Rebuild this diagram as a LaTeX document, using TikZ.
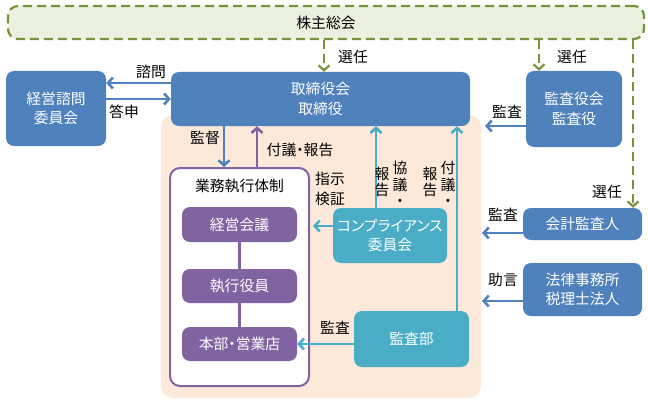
\documentclass[tikz,border=0pt]{standalone}
\usepackage{fontspec}
\setmainfont{Noto Sans CJK JP}
\newfontfamily\paltfont[RawFeature=+palt]{Noto Sans CJK JP}
\usetikzlibrary{arrows.meta}
\definecolor{boxblue}{HTML}{4F81BD}
\definecolor{boxpurple}{HTML}{8064A2}
\definecolor{boxteal}{HTML}{4BACC6}
\definecolor{dashgreen}{HTML}{77933C}
\definecolor{lightgreen}{HTML}{EBF1DE}
\definecolor{peach}{HTML}{FDE9D9}

\begin{document}
\begin{tikzpicture}[x=1pt,y=-1pt,
  every node/.style={font=\fontsize{14.8}{19.5}\selectfont, inner sep=0pt},
  box/.style={rounded corners=8pt, text=white, align=center},
  bluebox/.style={box, fill=boxblue},
  purplebox/.style={box, fill=boxpurple},
  tealbox/.style={box, fill=boxteal},
  lbl/.style={text=black, align=center},
  vlbl/.style={text=black, align=center, font=\fontsize{14.8}{16.5}\selectfont},
  arr/.style={line width=2.6pt, -{Straight Barb[length=5pt,width=11pt]}},
  greenarr/.style={dashgreen, line width=2.2pt, dash pattern=on 9pt off 5pt,
    -{Straight Barb[length=5pt,width=11pt]}}
]
\useasboundingbox (0,0) rectangle (648,404);
\fill [peach, rounded corners=12pt] (161,115) rectangle (481,398);

\node [draw=dashgreen, fill=lightgreen, line width=2.2pt, dash pattern=on 9pt off 5pt,
  rounded corners=10pt, minimum width=636pt, minimum height=33pt] (soukai) at (326,22.5) {株主総会};

\node [bluebox, minimum width=299pt, minimum height=54pt] (torishimari) at (320.5,99) {取締役会\\取締役};
\node [bluebox, minimum width=100pt, minimum height=75pt] (shimon) at (56,108.5) {経営諮問\\委員会};
\node [bluebox, minimum width=96pt, minimum height=76pt] (kansayaku) at (574,109) {監査役会\\監査役};
\node [bluebox, minimum width=119pt, minimum height=32pt] (kaikei) at (582.5,224) {会計監査人};
\node [bluebox, minimum width=119pt, minimum height=53pt] (houritsu) at (582.5,289.5) {法律事務所\\税理士法人};

\node [draw=boxpurple, fill=white, line width=2pt, rounded corners=10pt,
  minimum width=139pt, minimum height=218pt] (gyomu) at (239.5,277) {};
\node [lbl] (gyomutitle) at (239.5,186) {業務執行体制};
\node [purplebox, minimum width=115pt, minimum height=35pt] (keiei) at (239.5,224.5) {経営会議};
\node [purplebox, minimum width=115pt, minimum height=34pt] (shikko) at (239.5,286) {執行役員};
\node [purplebox, minimum width=115pt, minimum height=34pt] (honbu) at (239.5,344) {\paltfont 本部・営業店};
\node [tealbox, minimum width=114pt, minimum height=55pt] (compliance) at (390,235.5) {{\paltfont コンプライアンス}\\委員会};
\node [tealbox, minimum width=115pt, minimum height=56pt] (kansabu) at (411.5,339) {監査部};

\coordinate (kansaend) at (485,126);
\coordinate (kaikeiend) at (482,233);
\coordinate (houritsuend) at (482,301);

\draw [greenarr] (soukai.south -| 324,0) -- (torishimari.north -| 324,0);
\draw [greenarr] (soukai.south -| 539,0) -- (kansayaku.north -| 539,0);
\draw [greenarr] (soukai.south -| 633,0) -- (kaikei.north -| 633,0);

\draw [arr, boxblue] (torishimari.west |- 0,83) -- (shimon.east |- 0,83);
\draw [arr, boxblue] (shimon.east |- 0,99) -- (torishimari.west |- 0,99);
\draw [arr, boxblue] (kansayaku.west |- kansaend) -- (kansaend);
\draw [arr, boxblue] (kaikei.west |- kaikeiend) -- (kaikeiend);
\draw [arr, boxblue] (houritsu.west |- houritsuend) -- (houritsuend);
\draw [arr, boxblue] (torishimari.south -| 224,0) -- (gyomu.north -| 224,0);
\draw [arr, boxpurple] (gyomu.north -| 257,0) -- (torishimari.south -| 257,0);
\draw [arr, boxteal] (compliance.west |- 0,226) -- ([xshift=3pt]gyomu.east |- 0,226);
\draw [arr, boxteal] (compliance.north -| 376,0) -- (torishimari.south -| 376,0);
\draw [arr, boxteal] (kansabu.north -| 457,0) -- (torishimari.south -| 457,0);
\draw [arr, boxteal] (kansabu.west |- honbu.east) -- (honbu.east);
\draw [boxpurple, line width=2.6pt] (keiei) -- (shikko) -- (honbu);

\node [lbl] (senninA) at (353,57) {選任};
\node [lbl] (senninB) at (572,57) {選任};
\node [lbl] (senninC) at (607,192) {選任};
\node [lbl] (shimonlbl) at (151,72) {諮問};
\node [lbl] (toushinlbl) at (124,112) {答申};
\node [lbl] (kansaA) at (507,112) {監査};
\node [lbl] (kansaB) at (503,215) {監査};
\node [lbl] (jogen) at (503,280) {助言};
\node [lbl] (kantoku) at (205,138) {監督};
\node [lbl] (fugiA) at (300,150) {\paltfont 付議・報告};
\node [lbl] (shiji) at (330,189) {指示\\検証};
\node [vlbl] (houkokuA) at (382,182) {報\\告};
\node [vlbl] (kyougi) at (400,184) {協\\議\\・};
\node [vlbl] (houkokuB) at (430,182) {報\\告};
\node [vlbl] (fugiB) at (448,184) {付\\議\\・};
\node [lbl] (kansaC) at (335,328) {監査};
\end{tikzpicture}
\end{document}
